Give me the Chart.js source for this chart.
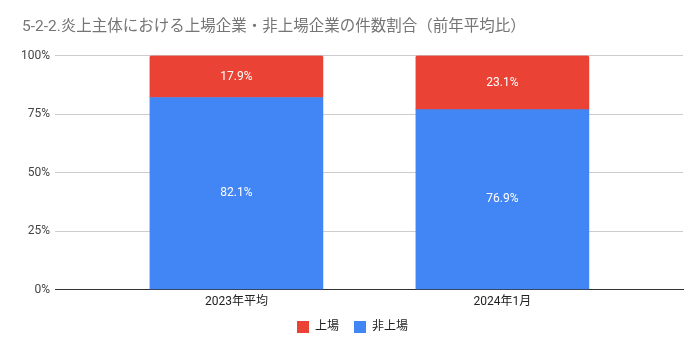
<!DOCTYPE html>
<html><head><meta charset="utf-8">
<script src="https://cdn.jsdelivr.net/npm/chart.js@4"></script>
<style>html,body{margin:0;padding:0;background:#fff}#wrap{width:700px;height:351px}</style>
</head><body><div id="wrap"><canvas id="c" width="700" height="351"></canvas></div>
<script>
const categories = ['2023年平均', '2024年1月'];
const listedValues = [17.9, 23.1];
const unlistedValues = [82.1, 76.9];
const yTicks = [0, 25, 50, 75, 100];
const titleText = '5-2-2.炎上主体における上場企業・非上場企業の件数割合（前年平均比）';

const FONT = "Roboto, 'Noto Sans CJK JP', sans-serif";

const labelPlugin = {
  id: 'segLabels',
  afterDatasetsDraw(chart) {
    const ctx = chart.ctx;
    ctx.save();
    ctx.fillStyle = '#ffffff';
    ctx.font = '12px ' + FONT;
    ctx.textAlign = 'center';
    ctx.textBaseline = 'middle';
    chart.data.datasets.forEach((ds, i) => {
      const meta = chart.getDatasetMeta(i);
      meta.data.forEach((el, j) => {
        const p = el.getProps(['x', 'y', 'base'], true);
        ctx.fillText(ds.data[j].y.toFixed(1) + '%', p.x, (p.y + p.base) / 2);
      });
    });
    ctx.restore();
  }
};

new Chart(document.getElementById('c'), {
  type: 'bar',
  data: {
    datasets: [
      { label: '非上場', data: unlistedValues.map((v, i) => ({ x: i, y: v })), backgroundColor: '#4285F4', barThickness: 173 },
      { label: '上場', data: listedValues.map((v, i) => ({ x: i, y: v })), backgroundColor: '#EA4335', barThickness: 173,
        borderRadius: { topLeft: 2, topRight: 2, bottomLeft: 0, bottomRight: 0 }, borderSkipped: false }
    ]
  },
  options: {
    responsive: false,
    animation: false,
    layout: { padding: { left: 22, right: 17, top: 0, bottom: 8 } },
    plugins: {
      title: { display: true, text: titleText, align: 'start', color: '#757575',
        font: { family: FONT, size: 15.5, weight: 'normal' }, padding: { top: 18, bottom: 19 } },
      legend: { display: true, position: 'bottom', reverse: true,
        labels: { boxWidth: 12, boxHeight: 12, padding: 15, color: '#222', font: { family: FONT, size: 12 } } },
      tooltip: { enabled: false }
    },
    scales: {
      x: {
        type: 'linear', stacked: true, offset: false,
        min: -0.682, max: 1.679,
        afterBuildTicks(s) { s.ticks = categories.map((c, i) => ({ value: i })); },
        ticks: { callback: (v) => categories[v] ?? '', color: '#222', font: { family: FONT, size: 12 }, padding: -3, maxRotation: 0 },
        grid: { display: false },
        border: { display: true, color: '#333', width: 1 }
      },
      y: {
        stacked: true, min: 0, max: 100,
        afterBuildTicks(s) { s.ticks = yTicks.map(v => ({ value: v })); },
        afterFit(s) { s.width = 33; },
        ticks: { callback: (v) => v + '%', color: '#444', font: { family: FONT, size: 12 }, padding: 5 },
        grid: { color: (c) => c.tick && c.tick.value === 0 ? '#333' : '#cccccc', drawTicks: false },
        border: { display: false }
      }
    }
  },
  plugins: [labelPlugin]
});
</script></body></html>
